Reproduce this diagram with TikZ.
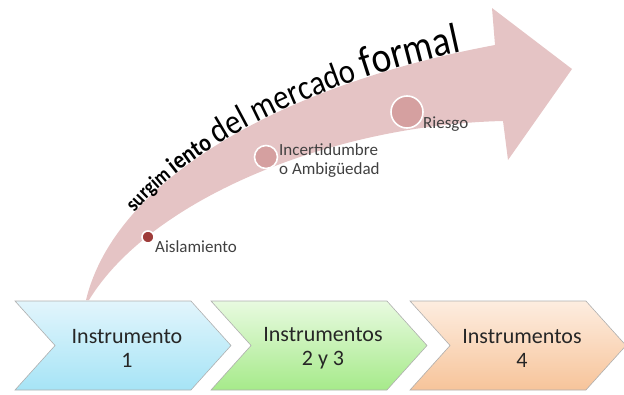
\documentclass[tikz,border=0pt]{standalone}
\usepackage{fontspec}
\setmainfont{Carlito}
\newfontfamily\arcfont[FakeStretch=0.87]{Carlito}
\usepackage{tikz}
\usetikzlibrary{shapes.symbols,decorations.text,positioning}

\definecolor{band}{RGB}{229,196,197}
\definecolor{dotdark}{RGB}{158,60,58}
\definecolor{dotpink}{RGB}{213,160,160}
\definecolor{labgray}{RGB}{64,64,64}
\definecolor{chevline}{RGB}{175,175,175}
\definecolor{blueT}{RGB}{226,245,252}
\definecolor{blueB}{RGB}{166,228,246}
\definecolor{greenT}{RGB}{232,250,224}
\definecolor{greenB}{RGB}{166,234,138}
\definecolor{orangeT}{RGB}{253,237,224}
\definecolor{orangeB}{RGB}{247,196,154}

\newcommand{\fsurg}{\arcfont\fontsize{21}{21}\selectfont\bfseries}
\newcommand{\fient}{\arcfont\fontsize{25}{25}\selectfont\bfseries}
\newcommand{\fdel}{\arcfont\fontsize{35}{35}\selectfont\mdseries}
\newcommand{\fform}{\arcfont\fontsize{43}{43}\selectfont\mdseries}

\begin{document}
\begin{tikzpicture}[x=1pt,y=-1pt]
\useasboundingbox (0,0) rectangle (624,394);

\tikzstyle{chev}=[signal, signal from=west, signal to=east,
  signal pointer angle=96, minimum width=216pt, minimum height=89pt,
  inner sep=0pt, draw=chevline, line width=0.6pt];
\tikzstyle{chevtxt}=[align=center, inner sep=0pt,
  font=\fontsize{22}{24}\selectfont, text=black!85];
\tikzstyle{dot}=[circle, draw=white, line width=1.6pt, inner sep=0pt];
\tikzstyle{lab}=[font=\fontsize{17}{19}\selectfont, text=labgray,
  inner sep=0pt, align=left, anchor=base west];

% big curved arrow
\coordinate (tailU) at (86,300);
\coordinate (tailL) at (89,300);
\coordinate (shaftU) at (495,45);
\coordinate (shaftL) at (503,121);
\coordinate (headU) at (492,8);
\coordinate (headL) at (508,160);
\coordinate (tip) at (572,69);

\fill[band] (tailU) .. controls (115,180) and (280,85) .. (shaftU)
  -- (headU) -- (tip) -- (headL) -- (shaftL)
  .. controls (330,125) and (150,200) .. (tailL) -- cycle;

\path[decorate, decoration={text along path, text align={left indent=101pt},
  text={|\fsurg|surgim |\fient|iento |\fdel|del mercado |\fform|formal}}]
  (tailU) .. controls (115,180) and (280,85) .. (shaftU);

% points on the arrow
\node[dot, fill=dotdark, minimum size=12pt] (aisl) at (148,237) {};
\node[dot, fill=dotpink, minimum size=23pt] (incert) at (266,157) {};
\node[dot, fill=dotpink, minimum size=32pt] (riesgo) at (407,112) {};

\node[lab] (aislT) at (155,252) {Aislamiento};
\node[lab] (incertT) at (279,174) {Incertidumbre\\o Ambigüedad};
\node[lab] (riesgoT) at (423,128) {Riesgo};

% chevrons
\foreach \cx/\ct/\cb/\nm/\txt in {123/blueT/blueB/ins1/{Instrumento\\1},
    319/greenT/greenB/ins2/{Instrumentos\\2 y 3},
    518/orangeT/orangeB/ins3/{Instrumentos\\4}}{
  \node[chev, top color=\ct, bottom color=\cb] (\nm) at (\cx,345.5) {};
  \node[chevtxt] (\nm T) at ([xshift=4pt,yshift=-3pt]\nm.center) {\txt};
}

\end{tikzpicture}
\end{document}
